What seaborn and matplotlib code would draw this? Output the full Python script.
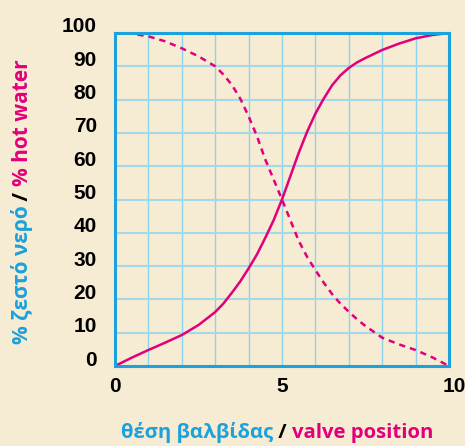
import matplotlib
matplotlib.use("Agg")
import matplotlib.pyplot as plt
import seaborn as sns
import pandas as pd
from matplotlib.transforms import ScaledTranslation

# ---- data ----
valve_pos = [0, 0.5, 1, 1.5, 2, 2.5, 3, 3.25, 3.5, 3.75, 4, 4.25, 4.5, 4.75, 5, 5.25, 5.5, 5.75,
             6, 6.25, 6.5, 6.75, 7, 7.25, 7.5, 8, 8.5, 9, 9.5, 10]
hot_water = [0, 2.5, 4.8, 7.0, 9.3, 12.3, 16.2, 18.8, 22, 25.4, 29.3, 33.5, 38.5, 43.8, 50, 57, 64, 70.3,
             75.8, 80.3, 84.3, 87.3, 89.5, 91.2, 92.5, 94.9, 96.8, 98.4, 99.4, 100]
cold_water = [100, 99.8, 99, 97.5, 95.4, 93, 90, 87.5, 84.4, 80.3, 75, 69, 62, 56, 50, 43.8, 37.6, 32.8,
              28.8, 25, 21.6, 18.7, 16.3, 14, 12, 8.5, 6.5, 4.8, 2.6, 0]
x_ticks = [0, 5, 10]
y_ticks = [0, 10, 20, 30, 40, 50, 60, 70, 80, 90, 100]

BG = "#f6ebd3"
MAG = "#e2007a"
BLUE = "#1ba1dc"
GRID = "#8dd3ee"

sns.set_style("white")
plt.rcParams["font.family"] = ["Liberation Sans", "DejaVu Sans"]

fig = plt.figure(figsize=(4.65, 4.46), dpi=100, facecolor=BG)
ax = fig.add_axes([115/465, 1-366/446, (449-115)/465, (366-33)/446])
ax.set_facecolor(BG)

df = pd.DataFrame({"x": valve_pos, "hot": hot_water, "cold": cold_water})
sns.lineplot(data=df, x="x", y="hot", ax=ax, color=MAG, linewidth=1.8, zorder=3)
sns.lineplot(data=df, x="x", y="cold", ax=ax, color=MAG, linewidth=1.8,
             linestyle=(0, (2.5, 2.0)), zorder=3)

ax.set_xlim(0, 10)
ax.set_ylim(0, 100)
ax.grid(False)
for v in range(1, 10):
    ax.axvline(v, color=GRID, lw=1.0, zorder=1)
for v in range(10, 100, 10):
    ax.axhline(v, color="#a3d9ea", lw=1.5, zorder=1)

ax.set_xticks(x_ticks)
ax.set_yticks(y_ticks)
ax.set_xticklabels([str(t) for t in x_ticks])
ax.set_yticklabels([str(t) for t in y_ticks])
ax.tick_params(axis="both", length=0, labelsize=15, labelcolor="black")
ax.tick_params(axis="y", pad=13)
ax.tick_params(axis="x", pad=8)
for lab in ax.get_xticklabels() + ax.get_yticklabels():
    lab.set_fontweight("bold")
for lab in ax.get_yticklabels():
    lab.set_transform(lab.get_transform() + ScaledTranslation(0, 8/100, fig.dpi_scale_trans))
xl = ax.get_xticklabels()[-1]
xl.set_transform(xl.get_transform() + ScaledTranslation(5/100, 0, fig.dpi_scale_trans))

for s in ax.spines.values():
    s.set_color(BLUE)
    s.set_linewidth(2.2)
    s.set_zorder(4)

ax.set_xlabel("")
ax.set_ylabel("")

# ---- multi-coloured axis titles ----
fig.canvas.draw()
r = fig.canvas.get_renderer()
fam = ["Open Sans", "DejaVu Sans"]

pieces = [("θέση βαλβίδας", BLUE), (" / ", "black"), ("valve position", MAG)]
texts = [fig.text(0, 0, s, color=c, ha="left", va="baseline", fontsize=14.6,
                  fontweight="bold", family=fam) for s, c in pieces]
widths = [t.get_window_extent(r).width for t in texts]
x0 = 277 - sum(widths) / 2
for t, w in zip(texts, widths):
    t.set_position((x0 / 465, 1 - 438 / 446))
    x0 += w

ytexts = [fig.text(0, 0, s, color=c, ha="center", va="bottom", rotation=90,
                   fontsize=15, fontweight="bold", family=fam)
          for s, c in [("% ζεστό νερό", BLUE), (" / ", "black"), ("% hot water", MAG)]]
heights = [t.get_window_extent(r).height for t in ytexts]
ypos = 446 - (202 + sum(heights) / 2)
for t, h in zip(ytexts, heights):
    t.set_position((22 / 465, ypos / 446))
    ypos += h

fig.savefig("out.png", dpi=100, facecolor=BG)
